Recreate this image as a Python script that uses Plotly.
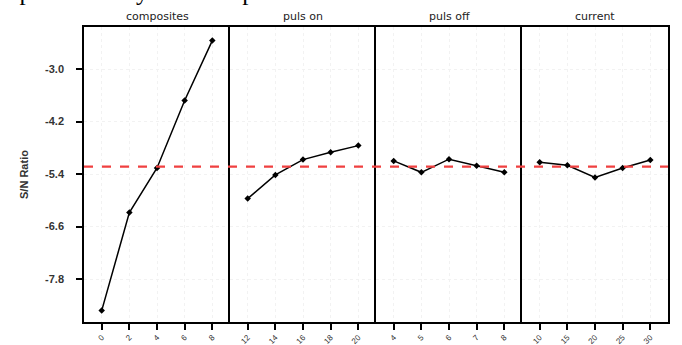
import plotly.graph_objects as go
from plotly.subplots import make_subplots

factors = ["composites", "puls on", "puls off", "current"]
levels_composites = ["0", "2", "4", "6", "8"]
levels_puls_on = ["12", "14", "16", "18", "20"]
levels_puls_off = ["4", "5", "6", "7", "8"]
levels_current = ["10", "15", "20", "25", "30"]
sn_composites = [-8.52, -6.28, -5.26, -3.72, -2.35]
sn_puls_on = [-5.96, -5.42, -5.07, -4.90, -4.75]
sn_puls_off = [-5.10, -5.36, -5.06, -5.21, -5.36]
sn_current = [-5.13, -5.20, -5.48, -5.26, -5.08]
y_ticks = [-3.0, -4.2, -5.4, -6.6, -7.8]
mean_sn = -5.23

levels = [levels_composites, levels_puls_on, levels_puls_off, levels_current]
values = [sn_composites, sn_puls_on, sn_puls_off, sn_current]

fig = make_subplots(rows=1, cols=4, shared_yaxes=True, horizontal_spacing=0,
                    subplot_titles=factors)

for i, (lv, vals) in enumerate(zip(levels, values)):
    fig.add_trace(go.Scatter(x=lv, y=vals, mode="lines+markers",
                             line=dict(color="black", width=1.5),
                             marker=dict(color="black", size=5, symbol="diamond"),
                             showlegend=False), row=1, col=i + 1)
    fig.update_xaxes(type="category", range=[-0.64, 4.64], showline=True, mirror=True,
                     linecolor="black", linewidth=1.5, ticks="outside", ticklen=6,
                     tickcolor="black", tickwidth=1.5, tickangle=-45,
                     tickfont=dict(family="Liberation Sans", size=8, color="#333"),
                     showgrid=True, gridcolor="#f2f2f2", griddash="dot",
                     zeroline=False, automargin=False, row=1, col=i + 1)
    fig.update_yaxes(showline=True, mirror=(i == 3), row=1, col=i + 1)

fig.update_yaxes(range=[-8.78, -2.04], tickvals=y_ticks,
                 ticktext=["%.1f" % v for v in y_ticks],
                 linecolor="black", linewidth=1.5, zeroline=False, automargin=False,
                 showgrid=True, gridcolor="#f2f2f2", griddash="dot")
fig.update_yaxes(ticks="outside", ticklen=6, tickcolor="black", tickwidth=1.5,
                 ticklabelstandoff=10,
                 tickfont=dict(family="Liberation Sans", size=11, color="#333",
                               weight="bold"),
                 title=dict(text="S/N Ratio", standoff=14,
                            font=dict(family="Liberation Sans", size=11, color="#333",
                                      weight="bold")),
                 row=1, col=1)

fig.add_shape(type="line", xref="paper", yref="y", x0=0, x1=1, y0=mean_sn, y1=mean_sn,
              line=dict(color="#f04040", width=2.2, dash="dash"), layer="above")

for ann in fig.layout.annotations:
    ann.font = dict(family="DejaVu Sans", size=11, color="#222")
    ann.yshift = 2

fig.add_annotation(text="reproducibility of the experimental conclusions.",
                   xref="paper", yref="paper", x=-0.148, y=1.067,
                   xanchor="left", yanchor="bottom", showarrow=False,
                   font=dict(family="Liberation Serif", size=25, color="black"))

fig.update_layout(width=682, height=345, margin=dict(l=84, r=14, t=27, b=23, autoexpand=False),
                  paper_bgcolor="white", plot_bgcolor="white")

fig.write_html("out.html", config={"displayModeBar": False},
               post_script="document.body.style.margin='0';")
